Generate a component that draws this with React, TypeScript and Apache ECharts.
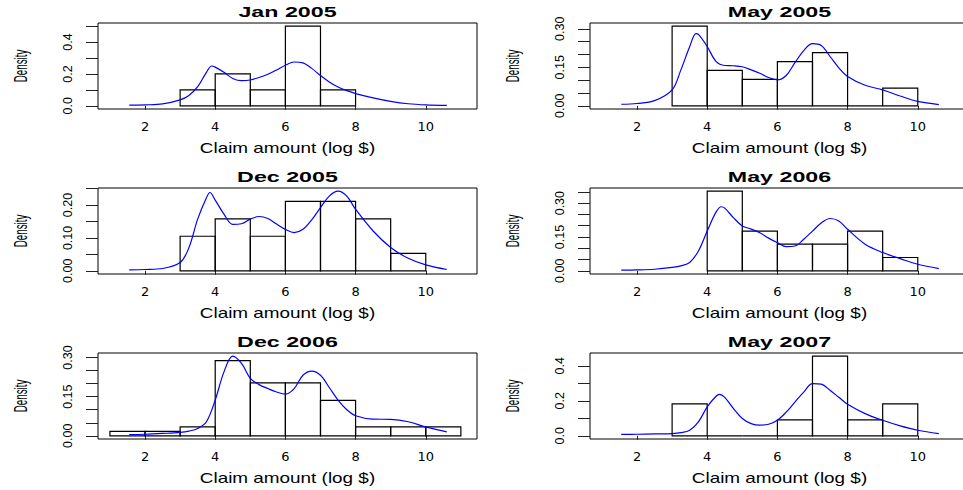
import React, { useEffect, useRef } from "react";
import * as echarts from "echarts";

// ---- data ----
const panelTitles = ["Jan 2005", "May 2005", "Dec 2005", "May 2006", "Dec 2006", "May 2007"];

// histogram bins (width 1), first break and densities
const binStart = [3, 3, 3, 4, 1, 3];
const jan2005Hist = [0.1, 0.2, 0.1, 0.5, 0.1];
const may2005Hist = [0.31, 0.138, 0.103, 0.172, 0.207, 0, 0.069];
const dec2005Hist = [0.105, 0.158, 0.105, 0.211, 0.211, 0.158, 0.053];
const may2006Hist = [0.353, 0.176, 0.118, 0.118, 0.176, 0.059];
const dec2006Hist = [0.017, 0.017, 0.034, 0.288, 0.203, 0.203, 0.136, 0.034, 0.034, 0.034];
const may2007Hist = [0.182, 0, 0, 0.091, 0.455, 0.091, 0.182];

// kernel density curves, read at these x positions
const densityX = [1.55, 2, 2.5, 3, 3.25, 3.5, 3.75, 4, 4.25, 4.5, 4.75, 5, 5.25, 5.5, 5.75, 6, 6.25, 6.5, 6.75, 7, 7.25, 7.5, 7.75, 8, 8.5, 9, 9.5, 10, 10.6];
const jan2005Dens = [0.004, 0.006, 0.012, 0.037, 0.065, 0.12, 0.21, 0.243, 0.21, 0.172, 0.158, 0.162, 0.178, 0.198, 0.225, 0.255, 0.275, 0.27, 0.235, 0.19, 0.15, 0.118, 0.095, 0.077, 0.05, 0.028, 0.013, 0.006, 0.003];
const may2005Dens = [0.006, 0.009, 0.02, 0.062, 0.14, 0.23, 0.278, 0.231, 0.173, 0.157, 0.156, 0.152, 0.14, 0.127, 0.11, 0.101, 0.118, 0.168, 0.215, 0.242, 0.235, 0.192, 0.148, 0.114, 0.08, 0.062, 0.038, 0.017, 0.005];
const dec2005Dens = [0.003, 0.004, 0.007, 0.025, 0.07, 0.157, 0.222, 0.215, 0.172, 0.141, 0.143, 0.157, 0.165, 0.159, 0.142, 0.126, 0.116, 0.126, 0.155, 0.192, 0.227, 0.242, 0.227, 0.187, 0.121, 0.071, 0.038, 0.018, 0.004];
const may2006Dens = [0.003, 0.004, 0.007, 0.015, 0.022, 0.037, 0.088, 0.176, 0.26, 0.278, 0.235, 0.199, 0.185, 0.169, 0.145, 0.125, 0.107, 0.11, 0.14, 0.176, 0.212, 0.232, 0.221, 0.184, 0.118, 0.081, 0.054, 0.029, 0.01];
const dec2006Dens = [0.005, 0.006, 0.009, 0.013, 0.018, 0.028, 0.054, 0.137, 0.245, 0.305, 0.277, 0.22, 0.196, 0.181, 0.168, 0.16, 0.181, 0.232, 0.248, 0.232, 0.185, 0.137, 0.1, 0.077, 0.064, 0.063, 0.054, 0.034, 0.015];
const may2007Dens = [0.008, 0.009, 0.011, 0.013, 0.018, 0.032, 0.08, 0.165, 0.226, 0.22, 0.155, 0.099, 0.07, 0.061, 0.066, 0.089, 0.135, 0.193, 0.25, 0.298, 0.295, 0.26, 0.22, 0.18, 0.127, 0.089, 0.057, 0.032, 0.013];
// extra points read at the sharper peaks
const peakX = [[3.9], [3.68], [3.85], [4.4], [4.5], [4.35]];
const peakY = [[0.25], [0.281], [0.238], [0.284], [0.305], [0.237]];

// axes
const xTicks = [2, 4, 6, 8, 10];
const yTicksA = [0, 0.1, 0.2, 0.3, 0.4, 0.5];
const yTicksB = [0, 0.05, 0.1, 0.15, 0.2, 0.25, 0.3];
const yTicksC = [0, 0.05, 0.1, 0.15, 0.2, 0.25];
const yTicksD = [0, 0.05, 0.1, 0.15, 0.2, 0.25, 0.3, 0.35];
const yTicksE = [0, 0.1, 0.2, 0.3, 0.4];
const yLabelsA = [0, 0.2, 0.4];
const yLabelsB = [0, 0.15, 0.3];
const yLabelsC = [0, 0.1, 0.2];
const yLabelDecimals = [1, 2, 2, 2, 2, 1];
const xAxisTitle = "Claim amount (log $)";
const yAxisTitle = "Density";

const hists = [jan2005Hist, may2005Hist, dec2005Hist, may2006Hist, dec2006Hist, may2007Hist];
const dens = [jan2005Dens, may2005Dens, dec2005Dens, may2006Dens, dec2006Dens, may2007Dens];
const yTicks = [yTicksA, yTicksB, yTicksC, yTicksD, yTicksB, yTicksE];
const yLabels = [yLabelsA, yLabelsB, yLabelsC, yLabelsB, yLabelsB, yLabelsA];

function curvePoints(i: number): number[][] {
  const pts: number[][] = densityX.map((x, k) => [x, dens[i][k]]);
  peakX[i].forEach((x, k) => {
    const existing = pts.find((p) => p[0] === x);
    if (existing) existing[1] = peakY[i][k];
    else pts.push([x, peakY[i][k]]);
  });
  pts.sort((a, b) => a[0] - b[0]);
  return pts;
}

function buildOption() {
  const grids: any[] = [];
  const xAxes: any[] = [];
  const yAxes: any[] = [];
  const series: any[] = [];
  const graphics: any[] = [];
  const gridW = 379;
  const gridH = 86;

  for (let i = 0; i < 6; i++) {
    const col = i % 2;
    const row = Math.floor(i / 2);
    const left = col === 0 ? 98 : 590;
    const top = 23 + row * 165;
    const cx = left + gridW / 2;
    const pts = curvePoints(i);
    const M = Math.max(Math.max(...hists[i]), Math.max(...pts.map((p) => p[1])));

    grids.push({
      left,
      top,
      width: gridW,
      height: gridH,
      show: true,
      borderColor: "#000",
      borderWidth: 1,
      backgroundColor: "transparent",
      containLabel: false,
      outerBoundsMode: "none",
    });

    xAxes.push({
      gridIndex: i,
      type: "value",
      min: 0.66,
      max: 11.46,
      axisLine: { show: false },
      splitLine: { show: false },
      axisTick: { show: true, customValues: xTicks, length: 4, lineStyle: { color: "#222", width: 1 } },
      axisLabel: {
        customValues: xTicks,
        margin: 11,
        fontFamily: "DejaVu Sans",
        fontSize: 13,
        color: "#000",
      },
    });

    const d = yLabelDecimals[i];
    yAxes.push({
      gridIndex: i,
      type: "value",
      min: -0.04 * M,
      max: 1.04 * M,
      axisLine: { show: false },
      splitLine: { show: false },
      axisTick: { show: true, customValues: yTicks[i], length: 12, lineStyle: { color: "#222", width: 1 } },
      axisLabel: {
        customValues: yLabels[i],
        rotate: 90,
        margin: 24,
        fontFamily: "'Liberation Sans Narrow', 'Liberation Sans'",
        fontSize: 12.5,
        color: "#000",
        formatter: (v: number) => v.toFixed(d),
      },
    });

    const start = binStart[i];
    series.push({
      type: "custom",
      xAxisIndex: i,
      yAxisIndex: i,
      silent: true,
      z: 2,
      data: hists[i].map((h, k) => [start + k, start + k + 1, h]),
      encode: { x: [0, 1], y: 2 },
      renderItem: (_p: any, api: any) => {
        const p0 = api.coord([api.value(0), api.value(2)]);
        const p1 = api.coord([api.value(1), 0]);
        return {
          type: "rect",
          shape: { x: p0[0], y: p0[1], width: p1[0] - p0[0], height: p1[1] - p0[1] },
          style: { fill: "none", stroke: "#000", lineWidth: 1.2 },
        };
      },
    });

    series.push({
      type: "line",
      xAxisIndex: i,
      yAxisIndex: i,
      silent: true,
      z: 3,
      smooth: 0.35,
      symbol: "none",
      lineStyle: { color: "#0000ff", width: 1.2 },
      data: pts,
    });

    graphics.push({
      type: "text",
      x: cx,
      y: top - 11,
      scaleX: 1.55,
      silent: true,
      style: {
        text: panelTitles[i],
        fontFamily: "Liberation Sans",
        fontWeight: "bold",
        fontSize: 15,
        fill: "#000",
        textAlign: "center",
        textVerticalAlign: "middle",
      },
    });
    graphics.push({
      type: "text",
      x: cx,
      y: top + 125,
      scaleX: 1.35,
      silent: true,
      style: {
        text: xAxisTitle,
        fontFamily: "Liberation Sans",
        fontSize: 14,
        fill: "#000",
        textAlign: "center",
        textVerticalAlign: "middle",
      },
    });
    graphics.push({
      type: "text",
      x: col === 0 ? 21 : 513,
      y: top + 43,
      rotation: Math.PI / 2,
      scaleX: 0.7,
      scaleY: 1.25,
      silent: true,
      style: {
        text: yAxisTitle,
        fontFamily: "Liberation Sans",
        fontSize: 14,
        fill: "#000",
        textAlign: "center",
        textVerticalAlign: "middle",
      },
    });
  }

  return {
    animation: false,
    backgroundColor: "#fff",
    grid: grids,
    xAxis: xAxes,
    yAxis: yAxes,
    series,
    graphic: graphics,
  };
}

export default function App() {
  const ref = useRef<HTMLDivElement>(null);
  useEffect(() => {
    if (!ref.current) return;
    const chart = echarts.init(ref.current, null, { renderer: "svg" });
    chart.setOption(buildOption());
    return () => chart.dispose();
  }, []);
  return (
    <div
      ref={ref}
      style={{ position: "absolute", left: 0, top: 0, width: 963, height: 490, background: "#fff" }}
    />
  );
}
